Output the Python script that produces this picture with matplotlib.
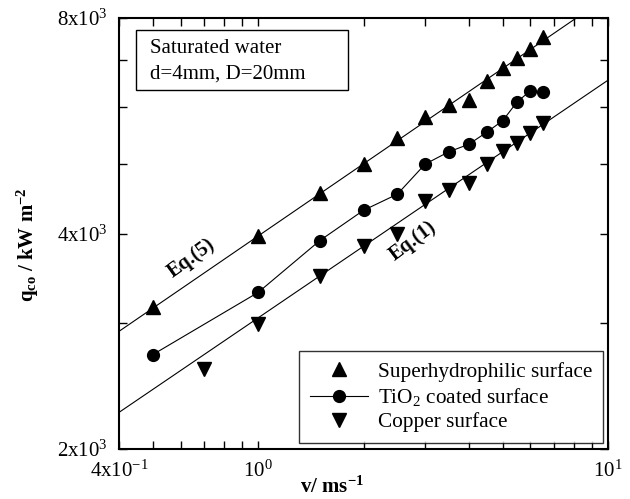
import numpy as np
import matplotlib.pyplot as plt
from matplotlib.ticker import FixedLocator, FixedFormatter, NullFormatter
from matplotlib.patches import Rectangle

plt.rcParams['font.family'] = 'Liberation Serif'
plt.rcParams['mathtext.fontset'] = 'custom'
plt.rcParams['mathtext.rm'] = 'Liberation Serif'
plt.rcParams['mathtext.it'] = 'Liberation Serif:italic'
plt.rcParams['mathtext.bf'] = 'Liberation Serif:bold'

# superhydrophilic surface
v_sh = [0.5, 1.0, 1.5, 2.0, 2.5, 3.0, 3.5, 4.0, 4.5, 5.0, 5.5, 6.0, 6.5]
q_sh = [3160, 3970, 4560, 5000, 5440, 5820, 6050, 6150, 6530, 6820, 7040, 7240, 7530]

# TiO2 coated surface
v_ti = [0.5, 1.0, 1.5, 2.0, 2.5, 3.0, 3.5, 4.0, 4.5, 5.0, 5.5, 6.0, 6.5]
q_ti = [2710, 3310, 3910, 4310, 4540, 5000, 5200, 5330, 5540, 5750, 6110, 6330, 6310]

# copper surface
v_cu = [0.7, 1.0, 1.5, 2.0, 2.5, 3.0, 3.5, 4.0, 4.5, 5.0, 5.5, 6.0, 6.5]
q_cu = [2590, 2990, 3490, 3840, 4000, 4440, 4600, 4700, 5000, 5220, 5360, 5520, 5700]

# correlation lines, end points
eq5_v = [0.4, 10]
eq5_q = [2920, 8580]
eq1_v = [0.4, 10]
eq1_q = [2250, 6550]

xticks = [0.4, 1, 10]
xlabels = [r'4x10$^{-1}$', r'10$^{0}$', r'10$^{1}$']
yticks = [2000, 4000, 8000]
ylabels = [r'2x10$^{3}$', r'4x10$^{3}$', r'8x10$^{3}$']

fig = plt.figure(figsize=(6.3, 4.99), dpi=100)
ax = fig.add_axes([0.1889, 0.1002, 0.7762, 0.8637])

ax.plot(eq5_v, eq5_q, 'k-', lw=0.8)
ax.plot(eq1_v, eq1_q, 'k-', lw=0.8)

ax.plot(v_sh, q_sh, 'k^', ms=10, ls='none', label='Superhydrophilic surface')
ax.plot(v_ti, q_ti, 'ko-', ms=8.5, lw=0.8, label=r'TiO$_2$ coated surface')
ax.plot(v_cu, q_cu, 'kv', ms=10, ls='none', label='Copper surface')

ax.set_xscale('log')
ax.set_yscale('log')
ax.set_xlim(0.4, 10)
ax.set_ylim(2000, 8000)

ax.xaxis.set_major_locator(FixedLocator(xticks))
ax.xaxis.set_major_formatter(FixedFormatter(xlabels))
ax.xaxis.set_minor_locator(FixedLocator([0.5, 0.6, 0.7, 0.8, 0.9, 2, 3, 4, 5, 6, 7, 8, 9]))
ax.xaxis.set_minor_formatter(NullFormatter())
ax.yaxis.set_major_locator(FixedLocator(yticks))
ax.yaxis.set_major_formatter(FixedFormatter(ylabels))
ax.yaxis.set_minor_locator(FixedLocator([3000, 5000, 6000, 7000]))
ax.yaxis.set_minor_formatter(NullFormatter())

ax.tick_params(which='both', direction='in', top=True, right=True,
               length=6, width=1, labelsize=15, pad=8)
for s in ax.spines.values():
    s.set_linewidth(1.5)

ax.text(0.642, 3696, 'Eq.(5)', fontsize=14.5, fontweight='bold',
        rotation=36, ha='center', va='center')
ax.text(2.77, 3902, 'Eq.(1)', fontsize=14.5, fontweight='bold',
        rotation=37, ha='center', va='center')

# condition box
ax.add_patch(Rectangle((0.0341, 0.8324), 0.4345, 0.1407, transform=ax.transAxes,
                       fill=False, ec='k', lw=1))
ax.text(0.0634, 0.9297, 'Saturated water', transform=ax.transAxes,
        fontsize=15, va='center', ha='left')
ax.text(0.0634, 0.8695, 'd=4mm, D=20mm', transform=ax.transAxes,
        fontsize=15, va='center', ha='left')

leg = ax.legend(loc='lower right', bbox_to_anchor=(0.989, 0.014), borderaxespad=0,
                fontsize=15.3, frameon=True, fancybox=False, edgecolor='k',
                handlelength=2.75, labelspacing=0.2, borderpad=0.5, handletextpad=0.45)
leg.get_frame().set_linewidth(1)

fig.text(0.045, 0.509, r'q$_{\mathbf{co}}$ / kW m$^{\mathbf{-2}}$', rotation=90,
         fontsize=15, fontweight='bold', ha='center', va='center')
fig.text(0.527, 0.024, r'v/ ms$^{\mathbf{-1}}$', fontsize=15, fontweight='bold',
         ha='center', va='center')

fig.savefig('out.png', dpi=100)
